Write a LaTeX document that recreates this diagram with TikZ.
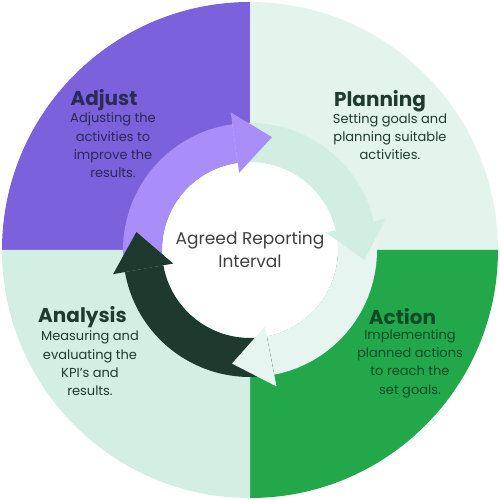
\documentclass[tikz,border=0pt]{standalone}
\usepackage{fontspec}
\setmainfont{Poppins}
\usepackage{tikz}
\definecolor{adjustpurple}{HTML}{7B61DB}
\definecolor{adjustarrow}{HTML}{A98DF8}
\definecolor{planlight}{HTML}{E3F4EC}
\definecolor{planarrow}{HTML}{D2EEE2}
\definecolor{actiongreen}{HTML}{22A84A}
\definecolor{actionarrow}{HTML}{E6F5EF}
\definecolor{analysislight}{HTML}{D3EEE3}
\definecolor{analysisarrow}{HTML}{1E3A2F}
\definecolor{navytext}{HTML}{2B2A55}
\definecolor{darktext}{HTML}{1F3A2F}
\definecolor{greentext}{HTML}{0E4A26}

\begin{document}
\begin{tikzpicture}[x=1pt, y=1pt,
    title/.style={font=\fontsize{20}{24}\selectfont\bfseries},
    desc/.style={align=center, font=\fontsize{13}{18.3}\selectfont}]
  \useasboundingbox (-250,-250) rectangle (250,250);
  \fill[white] (-250,-250) rectangle (250,250);
  % four quarters
  \fill[adjustpurple] (0,0) -- (90:248) arc[start angle=90, end angle=180, radius=248] -- cycle;
  \fill[planlight] (0,0) -- (0:248) arc[start angle=0, end angle=90, radius=248] -- cycle;
  \fill[actiongreen] (0,0) -- (-90:248) arc[start angle=-90, end angle=0, radius=248] -- cycle;
  \fill[analysislight] (0,0) -- (180:248) arc[start angle=180, end angle=270, radius=248] -- cycle;
  \fill[white] (0,0) circle[radius=88];
  % arrow bodies, clockwise
  \foreach \s/\b/\col in {190/98/adjustarrow, 98/13/planarrow, 13/-79/actionarrow, -79/-170/analysisarrow} {
    \fill[\col] (\s:127) arc[start angle=\s, end angle=\b, radius=127]
      -- (\b:88) arc[start angle=\b, end angle=\s, radius=88] -- cycle;
  }
  % arrow heads
  \foreach \b/\t/\col in {98/79/adjustarrow, 13/-5/planarrow, -79/-99/actionarrow, -170/-189/analysisarrow} {
    \fill[\col] (\b:78) -- (\b:139) -- (\t:115) -- cycle;
  }
  \node[title, text=navytext] (adjusttitle) at (-146,150) {Adjust};
  \node[desc, text=navytext] (adjusttext) at (-137,104.5) {Adjusting the\\activities to\\improve the\\results.};
  \node[title, text=darktext] (plantitle) at (130,149) {Planning};
  \node[desc, text=darktext] (plantext) at (140,113.5) {Setting goals and\\planning suitable\\activities.};
  \node[title, text=darktext] (analysistitle) at (-167.5,-67) {Analysis};
  \node[desc, text=darktext] (analysistext) at (-160,-113.5) {Measuring and\\evaluating the\\KPI’s and\\results.};
  \node[title, text=greentext] (actiontitle) at (152.5,-67) {Action};
  \node[desc, text=greentext] (actiontext) at (160,-113.5) {Implementing\\planned actions\\to reach the\\set goals.};
  \node[align=center, text=black!75, font=\fontsize{17}{23}\selectfont] (interval) at (0,0) {Agreed Reporting\\Interval};
\end{tikzpicture}
\end{document}
